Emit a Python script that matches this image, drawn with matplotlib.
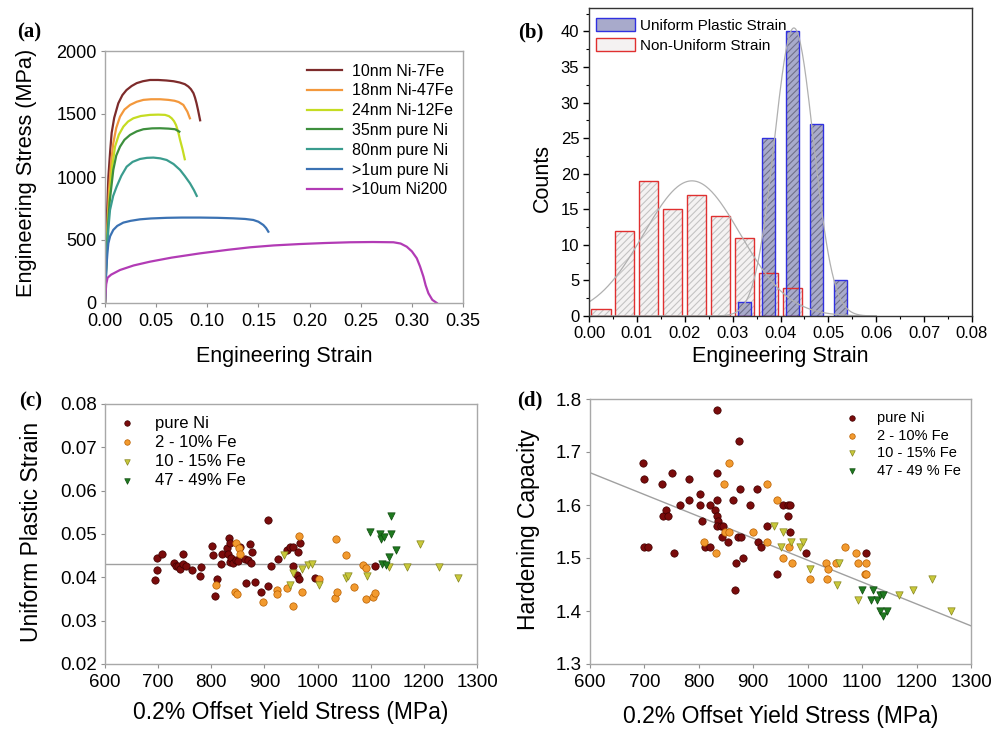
import numpy as np
import matplotlib.pyplot as plt
from matplotlib.patches import Patch
from matplotlib.ticker import MultipleLocator, FormatStrFormatter

plt.rcParams['font.family'] = ['Liberation Sans', 'DejaVu Sans']
plt.rcParams['hatch.linewidth'] = 0.8

# ---------------- (a) stress-strain curves ----------------
strain_10nm = [0, 0.001, 0.002, 0.0033, 0.005, 0.0065, 0.009, 0.013, 0.017, 0.021, 0.026, 0.031, 0.037, 0.044,
               0.052, 0.060, 0.067, 0.073, 0.078, 0.0815, 0.084, 0.0865, 0.088, 0.0895, 0.091, 0.093]
stress_10nm = [0, 400, 720, 1000, 1200, 1350, 1470, 1585, 1650, 1690, 1722, 1745, 1760, 1770,
               1770, 1766, 1760, 1750, 1737, 1718, 1697, 1665, 1630, 1585, 1530, 1450]
strain_18nm = [0, 0.001, 0.002, 0.004, 0.006, 0.0081, 0.011, 0.0147, 0.019, 0.0245, 0.031, 0.0375, 0.045,
               0.054, 0.062, 0.068, 0.072, 0.0766, 0.0805, 0.083]
stress_18nm = [0, 300, 550, 900, 1120, 1268, 1390, 1479, 1535, 1572, 1597, 1612, 1617,
               1617, 1612, 1605, 1595, 1572, 1519, 1466]
strain_24nm = [0, 0.001, 0.002, 0.0045, 0.007, 0.0098, 0.0135, 0.018, 0.0225, 0.0277, 0.035, 0.044, 0.052,
               0.0587, 0.0625, 0.0652, 0.0675, 0.0694, 0.0715, 0.0734, 0.0758, 0.078]
stress_24nm = [0, 280, 500, 850, 1080, 1241, 1335, 1400, 1440, 1466, 1484, 1493, 1495,
               1493, 1483, 1466, 1443, 1413, 1360, 1294, 1220, 1141]
strain_35nm = [0, 0.001, 0.002, 0.0045, 0.0081, 0.011, 0.0147, 0.019, 0.0245, 0.031, 0.0375, 0.046, 0.0538,
               0.062, 0.0685, 0.0727]
stress_35nm = [0, 260, 480, 800, 1056, 1170, 1241, 1295, 1334, 1362, 1379, 1386, 1387, 1384, 1379, 1360]
strain_80nm = [0, 0.001, 0.002, 0.0035, 0.0049, 0.008, 0.0114, 0.016, 0.0212, 0.027, 0.0342, 0.041, 0.0473,
               0.054, 0.0603, 0.067, 0.0734, 0.078, 0.0831, 0.087, 0.0897]
stress_80nm = [0, 230, 420, 610, 738, 850, 924, 1010, 1082, 1120, 1143, 1152, 1154,
               1148, 1135, 1103, 1056, 1008, 950, 895, 850]
strain_1um = [0, 0.0008, 0.0015, 0.0025, 0.0033, 0.005, 0.0081, 0.012, 0.0179, 0.025, 0.0342, 0.045, 0.0603,
              0.075, 0.0929, 0.11, 0.1255, 0.137, 0.145, 0.150, 0.1548, 0.1575, 0.1597]
stress_1um = [0, 180, 300, 410, 474, 530, 580, 612, 638, 652, 664, 671, 676,
              678, 678, 676, 672, 667, 659, 645, 619, 595, 566]
strain_ni200 = [0, 0.0006, 0.0012, 0.0025, 0.006, 0.0147, 0.028, 0.044, 0.065, 0.0929, 0.12, 0.1418, 0.165,
                0.1907, 0.215, 0.2396, 0.262, 0.282, 0.289, 0.295, 0.300, 0.3048, 0.308, 0.3113, 0.3135,
                0.3162, 0.320, 0.3244]
stress_ni200 = [0, 80, 150, 200, 225, 262, 298, 328, 360, 394, 422, 442, 457,
                468, 476, 482, 484, 482, 472, 447, 410, 355, 290, 209, 140, 77, 25, 0]
curve_labels = ["10nm Ni-7Fe", "18nm Ni-47Fe", "24nm Ni-12Fe", "35nm pure Ni",
                "80nm pure Ni", ">1um pure Ni", ">10um Ni200"]

# ---------------- (b) histograms ----------------
nonuni_centers = [0.0025, 0.0075, 0.0125, 0.0175, 0.0225, 0.0275, 0.0325, 0.0375, 0.0425]
nonuni_counts = [1, 12, 19, 15, 17, 14, 11, 6, 4]
uni_centers = [0.0325, 0.0375, 0.0425, 0.0475, 0.0525]
uni_counts = [2, 25, 40, 27, 5]
# gaussian fits (amplitude, centre, sigma)
nonuni_fit = (19.0, 0.0215, 0.0101)
uni_fit = (40.5, 0.0428, 0.0041)

# ---------------- (c) / (d) scatter ----------------
c_ni_x = [694, 697, 698, 707, 730, 733, 738, 741, 747, 747, 753, 763, 779, 780, 802, 804, 807, 810, 818, 821,
          829, 832, 834, 835, 836, 838, 841, 846, 851, 854, 863, 866, 869, 873, 876, 874, 882, 893, 906, 907,
          912, 925, 943, 948, 953, 954, 962, 963, 967, 965, 995, 1108]
c_ni_y = [0.0394, 0.0417, 0.0444, 0.0455, 0.0432, 0.0427, 0.0425, 0.0419, 0.0455, 0.0431, 0.0427, 0.0416, 0.0402,
          0.0423, 0.0472, 0.0452, 0.0358, 0.0396, 0.0431, 0.0455, 0.0467, 0.0454, 0.0490, 0.0480, 0.0436, 0.0444,
          0.0433, 0.0440, 0.0438, 0.0471, 0.0442, 0.0388, 0.0440, 0.0477, 0.0459, 0.0432, 0.0390, 0.0367, 0.0379,
          0.0532, 0.0425, 0.0442, 0.0463, 0.0469, 0.0427, 0.0469, 0.0406, 0.0459, 0.0480, 0.0396, 0.0398, 0.0427]
c_fe2_x = [809, 844, 848, 847, 852, 854, 898, 923, 924, 943, 954, 965, 970, 1003, 1032, 1037, 1035, 1053,
           1069, 1086, 1092, 1092, 1104, 1108]
c_fe2_y = [0.0383, 0.0367, 0.0361, 0.0480, 0.0467, 0.0454, 0.0344, 0.0371, 0.0362, 0.0376, 0.0335, 0.0495,
           0.0366, 0.0396, 0.0353, 0.0366, 0.0488, 0.0452, 0.0377, 0.0429, 0.0421, 0.0350, 0.0354, 0.0363]
c_fe10_x = [936, 948, 953, 970, 982, 990, 1003, 1054, 1058, 1093, 1134, 1168, 1193, 1228, 1264]
c_fe10_y = [0.0452, 0.0383, 0.0409, 0.0419, 0.0429, 0.0431, 0.0383, 0.0398, 0.0403, 0.0403, 0.0423, 0.0423,
            0.0477, 0.0423, 0.0398]
c_fe47_x = [1099, 1117, 1119, 1125, 1139, 1139, 1122, 1129, 1134, 1147]
c_fe47_y = [0.0505, 0.0500, 0.0488, 0.0492, 0.0500, 0.0541, 0.0431, 0.0429, 0.0446, 0.0462]
c_mean_strain = 0.0431

d_ni_x = [697, 699, 699, 707, 733, 734, 740, 743, 750, 755, 765, 781, 782, 802, 802, 806, 811, 820, 820, 830,
          834, 834, 834, 833, 836, 834, 840, 842, 845, 854, 863, 866, 869, 871, 874, 876, 877, 882, 894, 906,
          909, 914, 926, 944, 954, 963, 963, 967, 967, 997, 1108]
d_ni_y = [1.68, 1.65, 1.52, 1.52, 1.64, 1.58, 1.59, 1.58, 1.66, 1.51, 1.60, 1.61, 1.65, 1.62, 1.60, 1.57, 1.52,
          1.52, 1.60, 1.59, 1.78, 1.66, 1.61, 1.58, 1.57, 1.56, 1.56, 1.54, 1.56, 1.53, 1.61, 1.44, 1.49, 1.54,
          1.72, 1.63, 1.54, 1.50, 1.60, 1.63, 1.53, 1.52, 1.56, 1.47, 1.60, 1.60, 1.58, 1.60, 1.55, 1.51, 1.51]
d_fe2_x = [809, 846, 856, 848, 856, 831, 899, 925, 925, 944, 955, 966, 972, 1004, 1034, 1038, 1035, 1052,
           1068, 1088, 1093, 1108, 1105, 1108]
d_fe2_y = [1.53, 1.64, 1.68, 1.55, 1.55, 1.51, 1.55, 1.64, 1.53, 1.61, 1.50, 1.52, 1.49, 1.46, 1.49, 1.48,
           1.46, 1.49, 1.52, 1.51, 1.49, 1.49, 1.47, 1.47]
d_fe10_x = [938, 954, 950, 970, 985, 991, 1004, 1053, 1058, 1093, 1168, 1193, 1228, 1264]
d_fe10_y = [1.56, 1.55, 1.52, 1.53, 1.52, 1.53, 1.48, 1.45, 1.49, 1.42, 1.43, 1.44, 1.46, 1.40]
d_fe47_x = [1099, 1116, 1120, 1127, 1133, 1139, 1133, 1138, 1146]
d_fe47_y = [1.44, 1.42, 1.44, 1.42, 1.43, 1.43, 1.40, 1.39, 1.40]
d_fit_x = [600, 1300]
d_fit_y = [1.661, 1.372]

line_colors = ['#7d2b2b', '#f3983c', '#c5dc22', '#3d8f3d', '#3a9c8e', '#3b72b3', '#b23bb5']
grp_face = ['#7a0b0b', '#f29a2e', '#c8c83a', '#1f7a1f']
grp_edge = ['#3f0000', '#b85e00', '#85851e', '#0e4a0e']

W, H = 1003, 732
fig = plt.figure(figsize=(W / 100, H / 100), dpi=100)


def px_axes(l, t, r, b):
    return fig.add_axes([l / W, 1 - b / H, (r - l) / W, (b - t) / H])


def grey_frame(ax, size):
    for s in ax.spines.values():
        s.set_color('#a8a8a8')
        s.set_linewidth(1.0)
    ax.tick_params(direction='out', length=3, width=0.8, color='#909090', labelsize=size, pad=3)
    ax.tick_params(axis='x', pad=4)


def ftext(x, y, s, size, rot=0, **kw):
    fig.text(x / W, 1 - y / H, s, fontsize=size, rotation=rot, ha='center', va='center', **kw)


# ---------- (a) ----------
axa = px_axes(105, 51, 463, 303)
curves = [(strain_10nm, stress_10nm), (strain_18nm, stress_18nm), (strain_24nm, stress_24nm),
          (strain_35nm, stress_35nm), (strain_80nm, stress_80nm), (strain_1um, stress_1um),
          (strain_ni200, stress_ni200)]
for (x, y), c, lab in zip(curves, line_colors, curve_labels):
    axa.plot(x, y, color=c, lw=1.6, label=lab)
axa.set_xlim(0, 0.35)
axa.set_ylim(0, 2000)
axa.xaxis.set_major_locator(MultipleLocator(0.05))
axa.xaxis.set_major_formatter(FormatStrFormatter('%.2f'))
axa.yaxis.set_major_locator(MultipleLocator(500))
grey_frame(axa, 13)
axa.legend(loc='upper left', bbox_to_anchor=(0.564, 0.95), frameon=False, fontsize=11.5,
           handlelength=2.2, handletextpad=0.6, labelspacing=0.3, borderpad=0, borderaxespad=0)
ftext(27, 173, 'Engineering Stress (MPa)', 15.7, rot=90)
ftext(284, 357, 'Engineering Strain', 15.5)
ftext(29, 32, '(a)', 15, family='Liberation Serif', weight='bold')

# ---------- (b) ----------
axb = px_axes(589, 8, 972, 316)
red_fill = dict(color='#f4f2f2', edgecolor='#c4c4c4', hatch='/////', linewidth=0)
blue_fill = dict(color='#a8aacb', edgecolor='#70708a', hatch='/////', linewidth=0)
axb.bar(nonuni_centers, nonuni_counts, width=0.004, **red_fill)
axb.bar(uni_centers, uni_counts, width=0.0026, **blue_fill)
axb.bar(nonuni_centers, nonuni_counts, width=0.004, fill=False, edgecolor='#e03030', lw=1.0)
axb.bar(uni_centers, uni_counts, width=0.0026, fill=False, edgecolor='#3030e0', lw=1.0)
gx = np.linspace(0, 0.06, 300)
for amp, mu, sig in (nonuni_fit, uni_fit):
    axb.plot(gx, amp * np.exp(-(gx - mu) ** 2 / (2 * sig ** 2)), color='#b0b0b0', lw=0.9)
axb.set_xlim(0, 0.08)
axb.set_ylim(0, 43.3)
axb.xaxis.set_major_locator(MultipleLocator(0.01))
axb.xaxis.set_minor_locator(MultipleLocator(0.005))
axb.xaxis.set_major_formatter(FormatStrFormatter('%.2f'))
axb.yaxis.set_major_locator(MultipleLocator(5))
axb.yaxis.set_minor_locator(MultipleLocator(2.5))
for s in axb.spines.values():
    s.set_color('#333333')
    s.set_linewidth(1.0)
axb.tick_params(which='major', direction='out', length=4, width=1, labelsize=12, pad=3)
axb.tick_params(which='minor', direction='out', length=2.5, width=0.8)
h_blue = (Patch(**blue_fill), Patch(fill=False, edgecolor='#3030e0', lw=1.0))
h_red = (Patch(**red_fill), Patch(fill=False, edgecolor='#e03030', lw=1.0))
axb.legend([h_blue, h_red], ['Uniform Plastic Strain', 'Non-Uniform Strain'], loc='upper left',
           bbox_to_anchor=(0.018, 0.968), frameon=False, fontsize=11, handlelength=2.55,
           handleheight=0.92, handletextpad=0.33, labelspacing=0.35, borderpad=0, borderaxespad=0)
ftext(542, 178, 'Counts', 15.5, rot=90)
ftext(780, 357, 'Engineering Strain', 15.5)
ftext(531, 32, '(b)', 15, family='Liberation Serif', weight='bold')

grp_labels_c = ['pure Ni', '2 - 10% Fe', '10 - 15% Fe', '47 - 49% Fe']
grp_labels_d = ['pure Ni', '2 - 10% Fe', '10 - 15% Fe', '47 - 49 % Fe']
markers = ['o', 'o', 'v', 'v']

# ---------- (c) ----------
axc = px_axes(105, 404, 477, 664)
axc.axhline(c_mean_strain, color='#a0a0a0', lw=1.0, zorder=1)
for xs, ys, m, fc, ec, lab in zip([c_ni_x, c_fe2_x, c_fe10_x, c_fe47_x], [c_ni_y, c_fe2_y, c_fe10_y, c_fe47_y],
                                  markers, grp_face, grp_edge, grp_labels_c):
    axc.scatter(xs, ys, s=28, marker=m, facecolor=fc, edgecolor=ec, linewidth=0.5, label=lab, zorder=3)
axc.set_xlim(600, 1300)
axc.set_ylim(0.02, 0.08)
axc.xaxis.set_major_locator(MultipleLocator(100))
axc.yaxis.set_major_locator(MultipleLocator(0.01))
axc.yaxis.set_major_formatter(FormatStrFormatter('%.2f'))
grey_frame(axc, 13.5)
axc.legend(loc='upper left', bbox_to_anchor=(0.037, 0.955), frameon=False, fontsize=12, markerscale=0.75,
           handlelength=1.0, handletextpad=1.18, labelspacing=0.25, borderpad=0, borderaxespad=0)
ftext(32, 532, 'Uniform Plastic Strain', 16.5, rot=90)
ftext(291, 713, '0.2% Offset Yield Stress (MPa)', 16.5)
ftext(31, 401, '(c)', 15, family='Liberation Serif', weight='bold')

# ---------- (d) ----------
axd = px_axes(590, 399, 971, 664)
axd.plot(d_fit_x, d_fit_y, color='#a0a0a0', lw=1.0, zorder=1)
for xs, ys, m, fc, ec, lab in zip([d_ni_x, d_fe2_x, d_fe10_x, d_fe47_x], [d_ni_y, d_fe2_y, d_fe10_y, d_fe47_y],
                                  markers, grp_face, grp_edge, grp_labels_d):
    axd.scatter(xs, ys, s=28, marker=m, facecolor=fc, edgecolor=ec, linewidth=0.5, label=lab, zorder=3)
axd.set_xlim(600, 1300)
axd.set_ylim(1.3, 1.8)
axd.xaxis.set_major_locator(MultipleLocator(100))
axd.yaxis.set_major_locator(MultipleLocator(0.1))
axd.yaxis.set_major_formatter(FormatStrFormatter('%.1f'))
grey_frame(axd, 13.5)
axd.legend(loc='upper left', bbox_to_anchor=(0.668, 0.955), frameon=False, fontsize=10.5, markerscale=0.75,
           handlelength=1.0, handletextpad=1.21, labelspacing=0.25, borderpad=0, borderaxespad=0)
ftext(529, 530, 'Hardening Capacity', 16.5, rot=90)
ftext(781, 717, '0.2% Offset Yield Stress (MPa)', 16.5)
ftext(530, 400, '(d)', 15, family='Liberation Serif', weight='bold')

fig.savefig('out.png', dpi=100)
